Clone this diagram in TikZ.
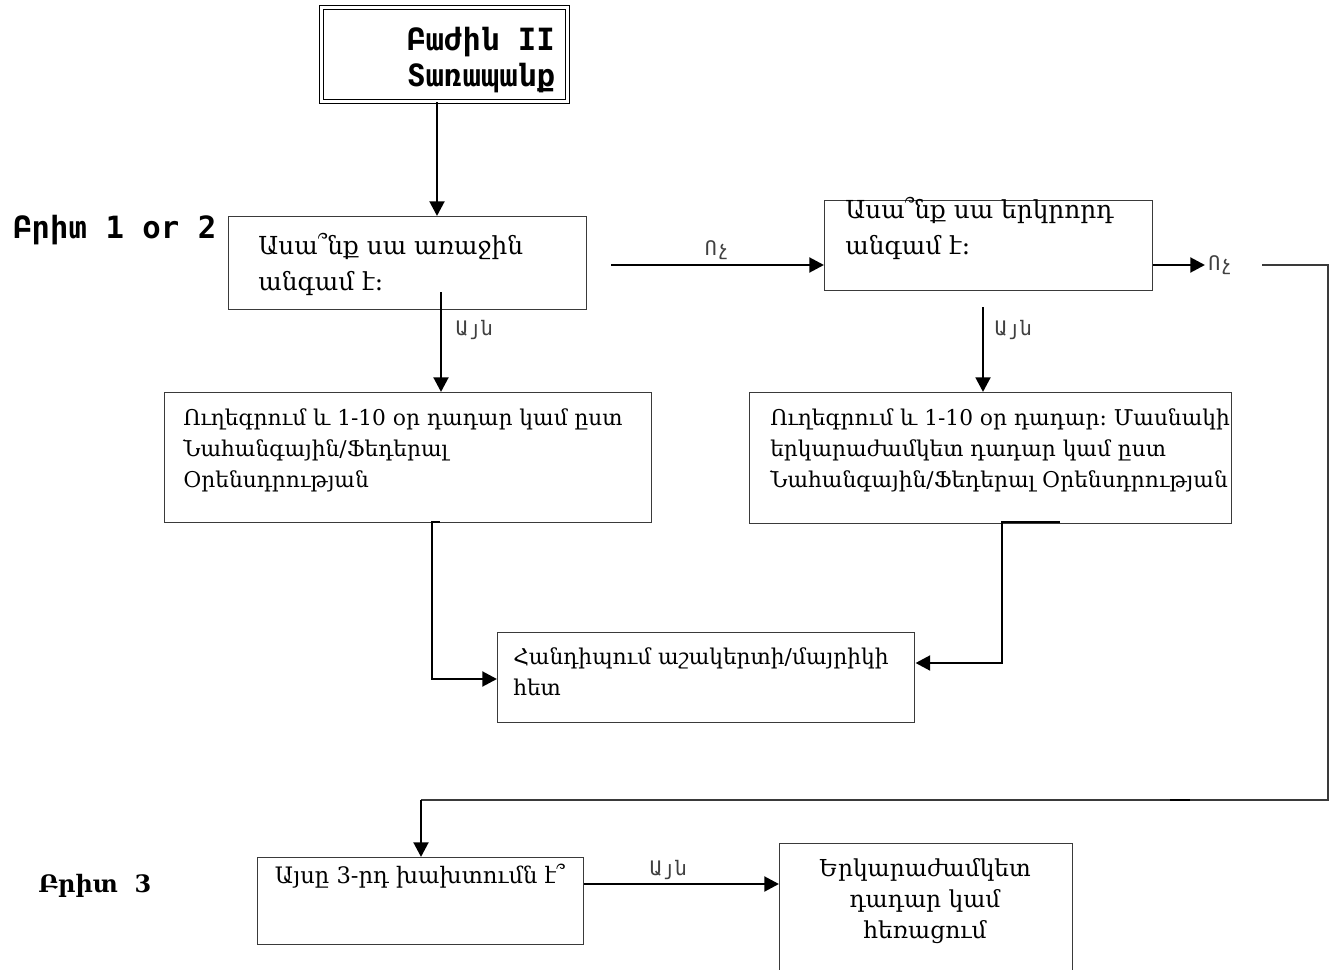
\documentclass[tikz,border=0pt]{standalone}
\usepackage{fontspec}
\setmainfont{DejaVu Serif}
\newfontfamily\monof{DejaVu Sans Mono}
\usetikzlibrary{arrows.meta,calc}
\definecolor{boxgray}{HTML}{3A3A3A}
\definecolor{lblgray}{HTML}{404040}
\begin{document}
\begin{tikzpicture}[x=0.75pt,y=-0.75pt,
  box/.style={draw=boxgray, line width=1.1pt, inner sep=0pt, anchor=north west},
  txt/.style={anchor=north west, inner sep=0pt, align=left},
  bigtxt/.style={txt, font=\fontsize{18.6}{27}\selectfont},
  midtxt/.style={txt, font=\fontsize{16.3}{23.25}\selectfont},
  lbl/.style={inner sep=0pt, text=lblgray, font=\monof\fontsize{15}{17}\selectfont},
  hdr/.style={inner sep=0pt, anchor=west, font=\monof\bfseries\fontsize{23}{27}\selectfont},
  tip/.style={-{Triangle[length=11pt,width=11pt]}},
  arr/.style={line width=2.2pt, tip},
  conn/.style={line width=2.2pt},
  thin/.style={line width=1.1pt, draw=boxgray}
]
\useasboundingbox (0,0) rectangle (1341,970);

% title
\node[box, draw=black, line width=0.9pt, double, double distance=2.4pt,
      minimum width=246*0.75pt, minimum height=94*0.75pt] (title) at (321,7) {};
\node[inner sep=0pt, align=center, font=\monof\bfseries\fontsize{23}{27}\selectfont] (titletxt) at (481,60) {Բաժին II\\Տառապանք};

% boxes
\node[box, minimum width=358*0.75pt, minimum height=93*0.75pt] (b1) at (228,216) {};
\node[box, minimum width=328*0.75pt, minimum height=90*0.75pt] (b2) at (824,200) {};
\node[box, minimum width=487*0.75pt, minimum height=130*0.75pt] (b3a) at (164,392) {};
\node[box, minimum width=482*0.75pt, minimum height=131*0.75pt] (b3b) at (749,392) {};
\node[box, minimum width=417*0.75pt, minimum height=90*0.75pt] (b5) at (497,632) {};
\node[box, minimum width=326*0.75pt, minimum height=87*0.75pt] (b6) at (257,857) {};
\node[box, minimum width=293*0.75pt, minimum height=160*0.75pt] (b7) at (779,843) {};

% box texts
\node[bigtxt] (t1) at (258,233) {Ասա՞նք սա առաջին\\անգամ է։};
\node[bigtxt] (t2) at (845,197) {Ասա՞նք սա երկրորդ\\անգամ է։};
\node[midtxt] (t3a) at (183,408) {Ուղեգրում և 1-10 օր դադար կամ ըստ\\Նահանգային/Ֆեդերալ\\Օրենսդրության};
\node[midtxt] (t3b) at (770,408) {Ուղեգրում և 1-10 օր դադար։ Մասնակի\\երկարաժամկետ դադար կամ ըստ\\Նահանգային/Ֆեդերալ Օրենսդրության};
\node[midtxt] (t5) at (513,647) {Հանդիպում աշակերտի/մայրիկի\\հետ};
\node[inner sep=0pt, font=\fontsize{17}{23.25}\selectfont] (t6) at (420,876) {Այսը 3-րդ խախտումն է՞};
\node[inner sep=0pt, align=center, font=\fontsize{17.5}{23.25}\selectfont] (t7) at (925,901) {Երկարաժամկետ\\դադար կամ\\հեռացում};

% side headers
\node[hdr] (h1) at (13,230) {Բրիտ 1 or 2};
\node[inner sep=0pt, anchor=west, font=\bfseries\fontsize{18}{20}\selectfont] (h2) at (38,886) {Բրիտ~~3};

% coordinates for connector routing
\coordinate (xa) at (437,0);
\coordinate (xb) at (441,0);
\coordinate (xc) at (983,0);
\coordinate (s1) at (611,265);
\coordinate (e1) at (1205,265);
\coordinate (s2) at (1262,265);
\coordinate (rc) at (1328,800);
\coordinate (lc) at (421,800);

% connectors
\draw[arr] (xa |- title.south) -- (xa |- b1.north);
\draw[arr] (s1) -- (s1 -| b2.west);
\draw[arr] (s1 -| b2.east) -- (e1);
\node[lbl] (no1) at (717,250) {Ոչ};
\node[lbl, anchor=west] (no2) at (1208,265) {Ոչ};
\draw[thin] (s2) -- (s2 -| rc) -- (rc) -- (lc);
\draw[line width=2.2pt] (1170,800) -- (1190,800);
\draw[arr] (lc) -- (lc |- b6.north);

\draw[arr] (441,292) -- (xb |- b3a.north);
\node[lbl] (yes1) at (474,330) {Այն};
\draw[arr] (983,307) -- (xc |- b3b.north);
\node[lbl] (yes2) at (1013,330) {Այն};

\draw[conn, tip] (440,522) -- (432,522) -- (432,679) -- (432,679 -| b5.west);
\draw[conn, tip] (1060,522) -- (1002,522) -- (1002,663) -- (1002,663 -| b5.east);

\draw[arr] (b6.east |- 0,884) -- (b7.west |- 0,884);
\node[lbl] (yes3) at (668,870) {Այն};
\end{tikzpicture}
\end{document}
